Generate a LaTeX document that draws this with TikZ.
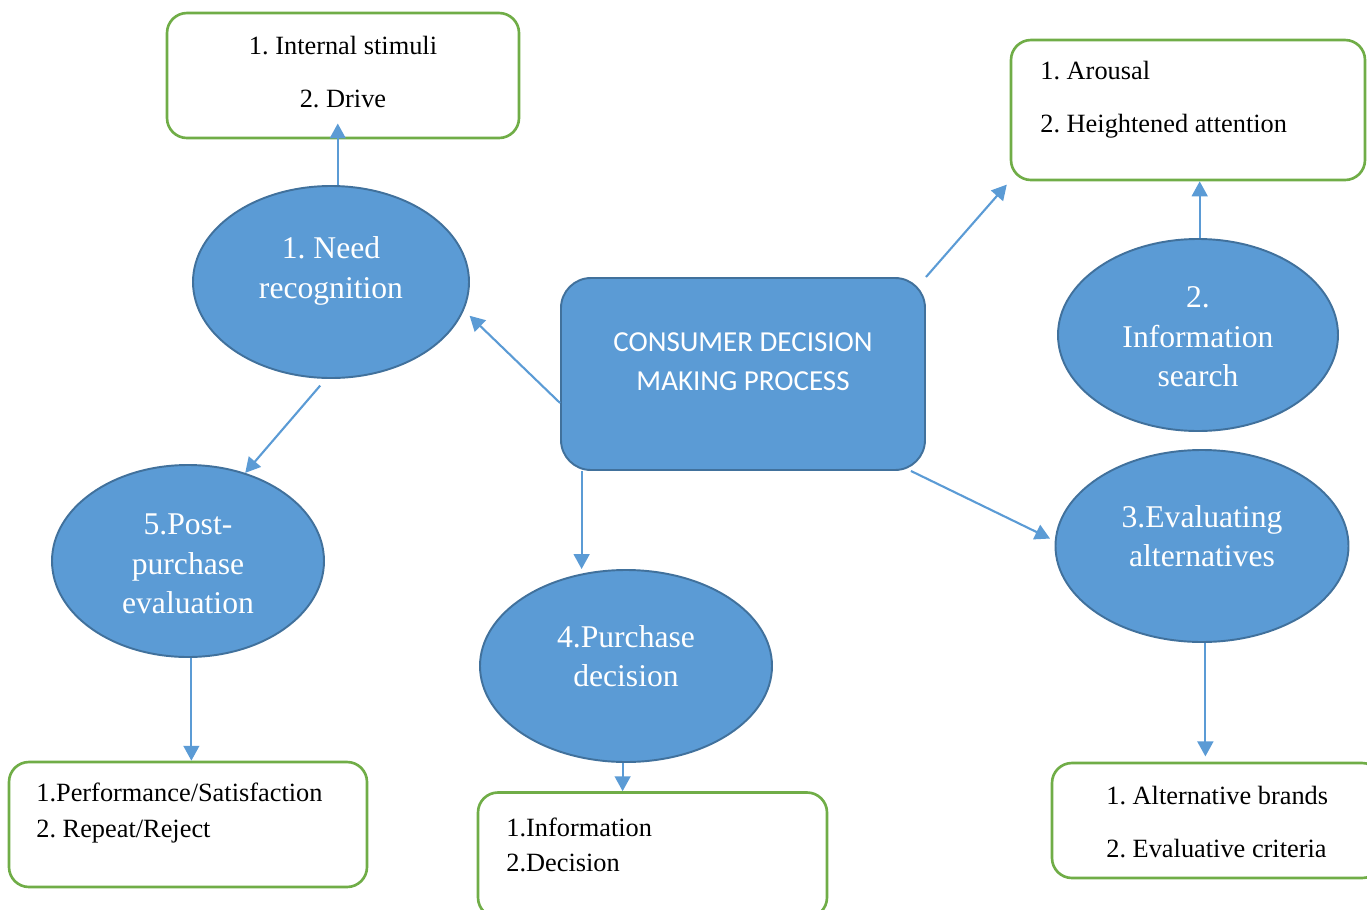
\documentclass[tikz,border=0pt]{standalone}
\usepackage{fontspec}
\setmainfont{Liberation Serif}
\newfontfamily\calibri{Carlito}
\usetikzlibrary{shapes.geometric,arrows.meta}
\definecolor{mainblue}{HTML}{5B9BD5}
\definecolor{edgeblue}{HTML}{41719C}
\definecolor{boxgreen}{HTML}{70AD47}
\newcommand{\pxl}{0.02cm}
\frenchspacing

\begin{document}
\begin{tikzpicture}[x=0.02cm,y=-0.02cm,
    stage/.style={ellipse,draw=edgeblue,fill=mainblue,line width=1.1pt,minimum height=192*\pxl,inner sep=0pt},
    stagetext/.style={text=white,align=center,font={\fontsize{18}{22.5}\selectfont}},
    listbox/.style={draw=boxgreen,fill=white,line width=1.5pt,rounded corners=0.4cm,inner sep=0pt},
    listwide/.style={inner sep=0pt,font={\fontsize{15}{30.5}\selectfont}},
    listtight/.style={inner sep=0pt,align=left,anchor=west,font={\fontsize{15}{20}\selectfont}},
    arr/.style={-{Triangle[width=9pt,length=8.5pt]},draw=mainblue,line width=1.2pt}]
    \useasboundingbox (0,0) rectangle (1367,910);
    \clip (0,0) rectangle (1367,910);

    % centre box
    \node[draw=edgeblue,fill=mainblue,line width=1.1pt,rounded corners=0.6cm,
          minimum width=364*\pxl,minimum height=192*\pxl] (cp) at (743,374) {};
    \node[text=white,align=center,font={\calibri\fontsize{16.5}{22}\selectfont}]
        at (743,362) {CONSUMER DECISION\\MAKING PROCESS};

    % stages
    \node[stage,minimum width=276*\pxl] (e1) at (331,282) {};
    \node[stage,minimum width=280*\pxl] (e2) at (1198,335) {};
    \node[stage,minimum width=293*\pxl] (e3) at (1202,546) {};
    \node[stage,minimum width=292*\pxl] (e4) at (626,666) {};
    \node[stage,minimum width=272*\pxl] (e5) at (188,561) {};
    \node[stagetext] at (331,271) {1. Need\\recognition};
    \node[stagetext] at (1198,337) {2.\\Information\\search};
    \node[stagetext] at (1202,536) {3.Evaluating\\alternatives};
    \node[stagetext] at (626,656) {4.Purchase\\decision};
    \node[stagetext] at (188,564) {5.Post-\\purchase\\evaluation};

    % lists
    \node[listbox,minimum width=352*\pxl,minimum height=125*\pxl] (b1) at (343,75.5) {};
    \node[listbox,minimum width=354*\pxl,minimum height=140*\pxl] (b2) at (1188,110) {};
    \node[listbox,minimum width=330*\pxl,minimum height=115*\pxl] (b3) at (1217,820.5) {};
    \node[listbox,minimum width=349*\pxl,minimum height=125*\pxl] (b4) at (652.5,855) {};
    \node[listbox,minimum width=358*\pxl,minimum height=125*\pxl] (b5) at (188,824.5) {};
    \node[listwide,align=center] at (343,72) {1. Internal stimuli\\2. Drive};
    \node[listwide,align=left,anchor=west] at (1040,99.5) {1. Arousal\\2. Heightened attention};
    \node[listwide,align=left,anchor=west] at (1106,822) {1. Alternative brands\\2. Evaluative criteria};
    \node[listtight] at (506,844.5) {1.Information\\2.Decision};
    \node[listtight] at (36,813) {1.Performance/Satisfaction\\2. Repeat/Reject};

    % arrows
    \draw[arr,shorten >=4.5pt] (cp.189) -- (e1.-12);
    \draw[arr,shorten >=2.5pt] (cp.north east) -- (b2.south west);
    \draw[arr,shorten >=3pt] (cp.-30) -- (e3.178);
    \draw[arr] (cp.211) -- (cp.211 |- e4.north);
    \draw[arr,shorten >=-9pt] (e1.86) -- (e1.86 |- b1.south);
    \draw[arr,shorten <=5pt] (e1.-93) -- (e5.57);
    \draw[arr] (e2.89) -- (e2.89 |- b2.south);
    \draw[arr,shorten >=3pt] (e3.-88) -- (e3.-88 |- b3.north);
    \draw[arr] (e4.-92) -- (e4.-92 |- b4.north);
    \draw[arr] (e5.-88) -- (e5.-88 |- b5.north);
\end{tikzpicture}
\end{document}
